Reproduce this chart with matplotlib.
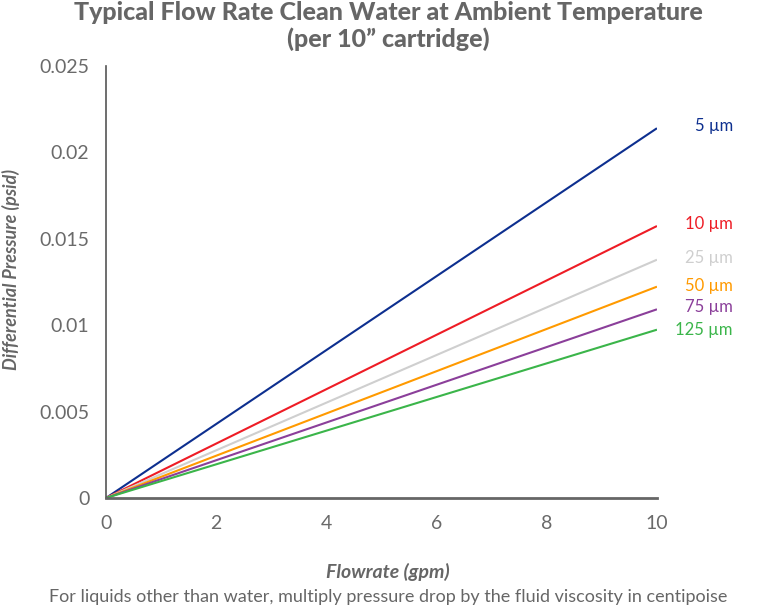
import matplotlib
matplotlib.use("Agg")
import matplotlib.pyplot as plt
import numpy as np

plt.rcParams['font.family'] = ['Lato', 'DejaVu Sans']

flow = [0, 10]
labels = ["5 µm", "10 µm", "25 µm", "50 µm", "75 µm", "125 µm"]
end_values = [0.02140, 0.01574, 0.01379, 0.01223, 0.01092, 0.00974]
label_y = [0.02150, 0.01585, 0.01390, 0.01228, 0.01105, 0.00972]
colors = ["#0d2f8f", "#ee1c25", "#cfcfcf", "#ff9a00", "#8b3f9a", "#3bb54a"]
xticks = [0, 2, 4, 6, 8, 10]
yticks = [0, 0.005, 0.01, 0.015, 0.02, 0.025]
ytick_labels = ["0", "0.005", "0.01", "0.015", "0.02", "0.025"]

grey = "#666666"
fig = plt.figure(figsize=(7.76, 6.09), dpi=100)
ax = fig.add_axes([0.1366, 0.1823, 0.7100, 0.7093])

for lab, v, ly, c in zip(labels, end_values, label_y, colors):
    ax.plot(flow, [0, v], color=c, lw=1.5, solid_capstyle='butt')
    ax.annotate(lab, xy=(1.138, ly), xycoords=('axes fraction', 'data'),
                ha='right', va='center', color=c, fontsize=12)

ax.set_xlim(0, 10)
ax.set_ylim(0, 0.025)
ax.set_xticks(xticks)
ax.set_yticks(yticks)
ax.set_yticklabels(ytick_labels)
ax.tick_params(axis='both', length=0, labelsize=14, colors="#6a6a6a")
ax.tick_params(axis='x', pad=12)
ax.tick_params(axis='y', pad=12)
for s in ['top', 'right']:
    ax.spines[s].set_visible(False)
ax.spines['left'].set_color('#555555')
ax.spines['left'].set_linewidth(1.2)
ax.spines['bottom'].set_color('#666666')
ax.spines['bottom'].set_linewidth(2)

fig.text(11 / 776, 1 - 269 / 609, "Differential Pressure (psid)", rotation=90,
         ha='center', va='center', fontsize=13, fontweight='bold',
         fontstyle='italic', color=grey)
fig.text(0.5, 1 - 572 / 609, "Flowrate (gpm)", ha='center', va='center',
         fontsize=14, fontweight='bold', fontstyle='italic', color=grey)

fig.text(0.5, 1 - 12 / 609, "Typical Flow Rate Clean Water at Ambient Temperature",
         ha='center', va='center', fontsize=18, fontweight='black', color=grey)
fig.text(0.5, 1 - 39 / 609, "(per 10\u201d cartridge)",
         ha='center', va='center', fontsize=18, fontweight='black', color=grey)
fig.text(0.5, 1 - 597 / 609, "For liquids other than water, multiply pressure drop by the fluid viscosity in centipoise",
         ha='center', va='center', fontsize=13, color=grey)

fig.savefig("out.png", dpi=100)
